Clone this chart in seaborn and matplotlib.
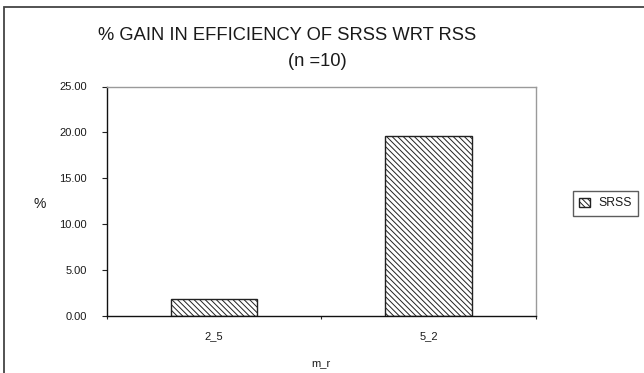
import matplotlib
matplotlib.use("Agg")
import matplotlib.pyplot as plt
from matplotlib.patches import Rectangle
import seaborn as sns
import pandas as pd

# ---- data ----
categories = ["2_5", "5_2"]
srss_gain = [1.88, 19.6]
series_name = "SRSS"
y_ticks = [0, 5, 10, 15, 20, 25]
y_tick_labels = ["0.00", "5.00", "10.00", "15.00", "20.00", "25.00"]
title_line1 = "% GAIN IN EFFICIENCY OF SRSS WRT RSS"
title_line2 = "(n =10)"
x_label = "m_r"
y_label = "%"

df = pd.DataFrame({"m_r": categories, "gain": srss_gain, "series": [series_name] * len(categories)})

sns.set_theme(style="white")
plt.rcParams["font.family"] = ["Liberation Sans", "DejaVu Sans"]
plt.rcParams["hatch.linewidth"] = 0.7
plt.rcParams["hatch.color"] = "#222222"

HATCH = "\\\\\\\\\\\\"

W, H = 644, 373
fig = plt.figure(figsize=(W / 100, H / 100), dpi=100)
fig.patch.set_facecolor("white")

left, right, top, bottom = 106.7, 536.0, 86.5, 316.3
ax = fig.add_axes([left / W, 1 - bottom / H, (right - left) / W, (bottom - top) / H])

sns.barplot(data=df, x="m_r", y="gain", hue="series", ax=ax, width=0.404,
            palette=["white"], edgecolor="#222222", linewidth=1.0, legend=True)

for p in ax.patches:
    p.set_hatch(HATCH)
    p.set_facecolor("white")
    p.set_edgecolor("#222222")

ax.set_xlim(-0.5, 1.5)
ax.set_ylim(0, 25)
ax.set_yticks(y_ticks)
ax.set_yticklabels(y_tick_labels)
ax.set_xticks([0, 1])
ax.set_xticklabels(categories)
ax.set_xticks([-0.5, 0.5, 1.5], minor=True)

txt = "#1a1a1a"
ax.tick_params(axis="y", which="major", direction="out", length=3.6, width=0.8,
               color="#222222", pad=10.5, labelsize=8, labelcolor=txt, left=True)
ax.tick_params(axis="x", which="major", length=0, pad=11, labelsize=8, labelcolor=txt)
ax.tick_params(axis="x", which="minor", direction="out", length=2.5, width=0.8,
               color="#222222", bottom=True)

for s in ["left", "bottom"]:
    ax.spines[s].set_color("#111111")
    ax.spines[s].set_linewidth(1.0)
for s in ["top", "right"]:
    ax.spines[s].set_color("#9a9a9a")
    ax.spines[s].set_linewidth(1.0)
    ax.spines[s].set_visible(True)

ax.set_xlabel(x_label, fontsize=8, color=txt, labelpad=12)
ax.set_ylabel(y_label, fontsize=10, color=txt, rotation=0, ha="center", va="center")
ax.yaxis.set_label_coords((40 - left) / (right - left), (bottom - 204) / (bottom - top))

# legend
handles, labels = ax.get_legend_handles_labels()
if ax.get_legend() is not None:
    ax.get_legend().remove()
for h in handles:
    h.set_hatch(HATCH)
    h.set_facecolor("white")
    h.set_edgecolor("#222222")
leg = fig.legend(handles, labels, loc="center left",
                 bbox_to_anchor=(573 / W, 1 - 203.5 / H), fontsize=8.8,
                 frameon=True, fancybox=False, handlelength=0.85, handleheight=0.7,
                 handletextpad=0.7, borderpad=0.5, borderaxespad=0)
leg.get_frame().set_edgecolor("#333333")
leg.get_frame().set_linewidth(1.0)
for t in leg.get_texts():
    t.set_color(txt)

# titles
fig.text(287 / W, 1 - 35 / H, title_line1, ha="center", va="center", fontsize=13.2, color=txt)
fig.text(317 / W, 1 - 62 / H, title_line2, ha="center", va="center", fontsize=13.2, color=txt)

# outer chart-area frame
fig.patches.append(Rectangle((4 / W, -0.1), 1.2, (1 - 7 / H) + 0.1, transform=fig.transFigure,
                             fill=False, edgecolor="#444444", linewidth=1.3, zorder=0))

fig.savefig("out.png", dpi=100, facecolor="white")
